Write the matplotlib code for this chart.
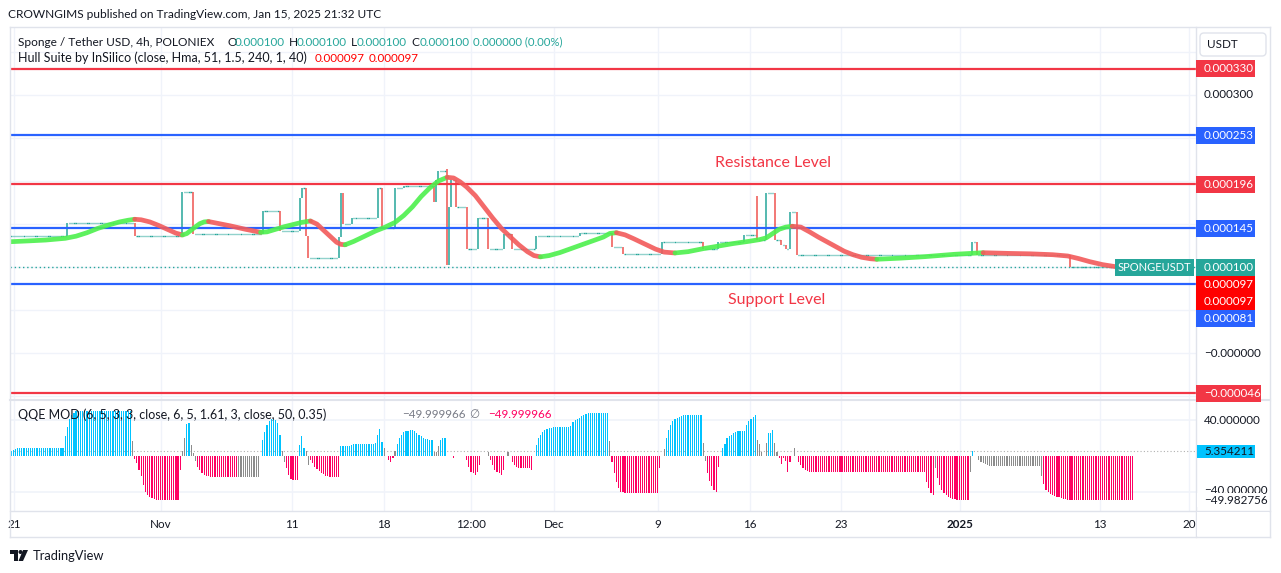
import numpy as np
import matplotlib
matplotlib.use("Agg")
import matplotlib.pyplot as plt
from matplotlib.patches import Rectangle, FancyBboxPatch, Polygon, Circle
from matplotlib.transforms import IdentityTransform

# ---------------------------------------------------------------- data
UNIT = 1e-6            # prices below are in micro-USDT
N_BARS = 518           # 4h bars shown

# (bar index, close) -- close is held until the next entry
price_steps = [
    (0, 136), (26, 151), (57, 136), (79, 187), (84, 138.5), (116, 165),
    (124, 142), (133, 180), (134, 192), (136, 136), (137, 111), (151, 135.5),
    (152, 186), (153, 150), (157, 157), (169, 191.6), (171, 145.8),
    (177, 191.6), (181, 194), (195, 176), (196, 201), (197, 211.6),
    (201, 102.6), (202, 169.5), (203, 201), (205, 169.5), (210, 120.8),
    (215, 157), (220, 120.8), (227, 139), (231, 120.8), (242, 135.8),
    (262, 139.7), (277, 123), (282, 115.3), (300, 129.2), (319, 120.8),
    (326, 129.2), (338, 137), (344, 131.5), (348, 185.7), (352, 132),
    (355, 126), (357, 120.8), (359, 163.7), (362, 114.5), (443, 129),
    (445, 113.8), (488, 100),
]
wick_highs = [(201, 213.6), (344, 182.6), (352, 186)]

# Hull Suite (bar index, value)
hull_points = [
    (0, 129.6), (8, 130.5), (16, 131.5), (25, 133.5), (30, 136), (35, 140),
    (40, 145), (45, 149), (50, 152.5), (54, 154.5), (57, 155.6),
    (60, 155), (64, 152.5), (68, 148.5), (72, 144), (76, 139.5), (79, 137.4),
    (81, 139), (84, 145), (87, 150.5), (89, 152.5), (91, 153),
    (95, 151), (101, 148), (108, 144), (115, 140.5),
    (118, 141), (122, 144), (126, 147), (130, 149.5), (134, 152), (138, 153.6),
    (141, 150), (144, 143), (147, 136), (150, 129), (152, 126.5), (154, 126),
    (158, 130), (163, 136), (168, 142), (172, 146), (177, 152), (181, 160),
    (185, 170), (189, 182), (193, 192), (197, 200), (201, 204.3),
    (204, 203.5), (207, 199), (210, 193), (214, 183), (218, 170), (222, 157),
    (226, 145), (230, 135.4), (234, 126), (238, 118), (241, 113.5), (244, 112),
    (248, 113.5), (253, 117), (258, 121.5), (263, 126), (268, 130.5),
    (273, 135), (276, 139.2), (279, 140),
    (283, 137.5), (287, 133), (292, 127), (297, 121), (301, 117.5), (306, 116.5),
    (312, 118), (319, 121.5), (326, 124.5), (333, 127.5), (340, 130),
    (345, 132), (348, 134), (351, 139), (354, 144), (357, 146.5), (360, 147.5),
    (364, 146.5), (368, 141), (372, 135), (376, 129.5), (380, 124), (384, 118.5),
    (388, 114.5), (392, 111.5), (396, 109.8), (399, 109.2),
    (410, 110.5), (421, 112.2), (435, 115), (448, 116.8),
    (460, 116), (470, 115.5), (480, 114.5), (487, 113), (492, 110),
    (497, 106.5), (503, 103), (509, 100.6), (517, 97),
]

red_levels = [330, 196, -46]
blue_levels = [253, 145, 81]

# QQE MOD histogram: (first bar, colour key, values)
qqe_segments = [
    (0, 'b', [6, 7, 8, 9, 9.5, 9.5, 9.5, 9.5, 9.5, 9.5, 9.5, 9.5, 9.5, 9.5, 9.5,
              9.5, 9.5, 9.5, 9.5, 9.5, 9.5, 9.5, 9.5, 9.5, 9.5]),
    (25, 'b', [22, 33, 42]),
    (28, 'b', [46, 48, 50, 50, 50, 50, 50, 50, 50, 50, 50, 50, 50, 50, 50, 50,
               50, 50, 50, 50, 50, 50, 50, 50, 50, 50, 50, 50]),
    (56, 'g', [17]),
    (57, 'p', [-3, -8, -16, -23, -33, -41, -44, -46, -47, -48, -49, -49.5,
               -49.5, -49.5, -49.5, -49.5, -49.5, -49.5, -49.5, -49.5, -49, -16]),
    (79, 'g', [6, 20]),
    (81, 'b', [36, 37]),
    (83, 'g', [12, 3, -6]),
    (86, 'p', [-12, -16, -19, -21, -22, -23, -23.5, -24, -24, -24, -24, -24,
               -24, -24, -24, -24, -24, -24, -24]),
    (105, 'g', [-24, -24, -24, -24, -24, -24, -24, -24, -24, -24]),
    (116, 'b', [18, 27, 35, 39, 41, 42, 40, 37, 24]),
    (125, 'g', [6, -7]),
    (127, 'p', [-14, -21, -26, -27, -27, -27]),
    (133, 'b', [12, 22, 9.4]),
    (136, 'g', [5.6, -10]),
    (138, 'p', [-5, -8, -12, -15, -17, -19, -20, -22, -23, -24, -24, -24, -24, -24]),
    (152, 'b', [11, 11, 11, 11, 11, 12, 14, 14, 14, 14, 14, 14, 14, 14, 14, 14,
                15, 24, 30, 16]),
    (172, 'g', [8.6]),
    (174, 'p', [-4.5, -7, -2.6]),
    (177, 'g', [5.6]),
    (178, 'b', [14, 20, 24, 27, 28, 28.5, 29, 29, 28, 26, 24, 22, 20, 19, 19, 18, 18]),
    (195, 'g', [5, 5, 11.6]),
    (198, 'b', [18, 20, 20.6]),
    (204, 'p', [-2.6]),
    (210, 'p', [-4.5, -12, -17.6, -19.5, -21, -17.6, -10]),
    (220, 'g', [5]),
    (221, 'p', [-4.5, -10, -16, -17.6, -19.5, -21, -15.7]),
    (229, 'g', [5]),
    (231, 'p', [-6.4, -10, -12, -14, -14, -14, -14, -14, -14, -15.7]),
    (242, 'b', [12, 20, 24, 27, 29, 30, 31, 32, 32.5, 32.5, 32.5, 32.5, 32.5,
                32.5, 32.5, 32.5, 34, 38, 40, 42, 43, 44.5, 46, 47, 48, 48, 48,
                48, 48, 48, 48, 48, 48, 48]),
    (276, 'g', [17]),
    (277, 'p', [-6.4, -19.5, -29, -35.6, -40, -41, -41.5, -42, -42, -42, -42,
                -42, -42, -42, -42, -42, -42, -42, -42, -42, -42, -42, -13]),
    (301, 'g', [8]),
    (302, 'b', [20, 29, 35, 39, 41, 42.5, 44, 45, 46, 46, 46, 46, 46, 46, 46, 46, 46]),
    (319, 'g', [15, -5.6]),
    (321, 'p', [-19.5, -28, -34, -38, -41, -12]),
    (328, 'b', [9.4, 14, 20, 22, 24, 26, 27, 28, 28.5, 28.5, 28.5, 35, 39, 42, 44, 46]),
    (344, 'g', [18, 13, 5]),
    (348, 'g', [15]),
    (349, 'b', [25.5, 25.5, 29]),
    (352, 'g', [15, 5]),
    (354, 'p', [-2.6, -9.4, -2, -6, -17.6, -6.4]),
    (361, 'g', [9.4]),
    (363, 'p', [-6.4, -10, -14, -16, -17, -17.6, -18.5, -18.5, -18.5, -18.5,
                -18.5, -18.5, -18.5, -18.5, -18.5, -18.5, -18.5, -18.5, -18.5,
                -18.5, -18.5, -18.5, -18.5, -18.5, -18.5, -18.5, -18.5, -18.5,
                -18.5, -18.5, -18.5, -18.5, -18.5, -18.5, -18.5, -18.5, -18.5,
                -18.5, -18.5, -18.5, -18.5, -18.5, -18.5, -18.5, -18.5, -18.5,
                -18.5, -18.5, -18.5, -18.5, -18.5, -18.5, -18.5, -18.5, -18.5,
                -18.5, -18.5, -18.5, -18.5]),
    (422, 'p', [-29, -36, -42, -44]),
    (426, 'g', [-13]),
    (427, 'p', [-25, -33, -38, -42, -44, -46, -47.5, -48, -48.5, -49, -49,
                -49.5, -49.5, -49.5, -49.5]),
    (442, 'g', [-17.6]),
    (443, 'b', [5.6]),
    (446, 'g', [-4.5, -6.4, -8.2, -9.4, -10, -10.8, -11, -11, -11, -11, -11,
                -11, -11, -11, -11, -11, -11, -11, -11, -11, -11, -11, -11, -11,
                -11, -11, -11, -11, -11, -23]),
    (476, 'p', [-31.5, -38, -41, -43, -44, -45.5, -46, -46.5, -47, -48, -48.5,
                -49, -49.5, -50, -50, -50, -50, -50, -50, -50, -50, -50, -50, -50,
                -50, -50, -50, -50, -50, -50, -50, -50, -50, -50, -50, -50, -50,
                -50, -50, -50, -50, -50]),
]
qqe_last = 5.354211
qqe_low_label = -49.982756
qqe_legend_value = -49.999966

tick_pos = [1.4, 69.1, 129.5, 171.9, 212.0, 250.2, 298.2, 340.6, 382.5, 437.3, 501.8, 542.9]
tick_labels = ['21', 'Nov', '11', '18', '12:00', 'Dec', '9', '16', '23', '2025', '13', '20']
price_grid = [350, 300, 250, 200, 150, 100, 50, 0, -50]
qqe_grid = [40, -40]

# ---------------------------------------------------------------- style
W, H = 1281, 573
FONT = 'Lato'
C_TXT = '#131722'
C_UP, C_DN = '#26a69a', '#ef5350'
C_RED, C_BLUE = '#f23645', '#2962ff'
C_GRID, C_SEP = '#f0f3fa', '#e0e3eb'
QQE_COL = {'b': '#00c3ff', 'p': '#ff0062', 'g': '#8c8c8c'}

plt.rcParams['font.family'] = [FONT, 'DejaVu Sans']
fig = plt.figure(figsize=(W / 100, H / 100), dpi=100)
fig.patch.set_facecolor('white')

L, R, T, MB, QB = 10, 1196, 27, 400, 511
ax = fig.add_axes([L / W, 1 - MB / H, (R - L) / W, (MB - T) / H])
axq = fig.add_axes([L / W, 1 - QB / H, (R - L) / W, (QB - MB) / H], sharex=ax)
XL = (-0.46, 546.1)
ax.set_xlim(*XL)
ax.set_ylim(-54.1 * UNIT, 378.7 * UNIT)
axq.set_ylim(-61.8, 62.9)
for a in (ax, axq):
    a.set_facecolor('white')
    for s in a.spines.values():
        s.set_visible(False)
    a.tick_params(length=0, labelleft=False, labelright=False)
    a.set_yticks([])
ax.tick_params(labelbottom=False)

ID = IdentityTransform()


def ptext(x, y, s, **kw):
    kw.setdefault('va', 'center')
    kw.setdefault('color', C_TXT)
    kw.setdefault('fontsize', 8.4)
    return fig.text(x, H - y, s, transform=ID, **kw)


def prect(x0, y0, x1, y1, **kw):
    r = Rectangle((x0, H - y1), x1 - x0, y1 - y0, transform=ID, **kw)
    fig.add_artist(r)
    return r


def pline(x0, y0, x1, y1, **kw):
    fig.add_artist(plt.Line2D([x0, x1], [H - y0, H - y1], transform=ID, **kw))


def ypix(a, v):
    return H - a.transData.transform((0, v))[1]


def fmt(v):
    s = f"{abs(v) * UNIT:.6f}"
    return ('\u2212' + s) if v < 0 else s


# grid
for t in tick_pos:
    ax.axvline(t, color=C_GRID, lw=1, zorder=0)
    axq.axvline(t, color=C_GRID, lw=1, zorder=0)
for g in price_grid:
    ax.axhline(g * UNIT, color=C_GRID, lw=1, zorder=0)
for g in qqe_grid:
    axq.axhline(g, color=C_GRID, lw=1.2, zorder=0)

# ---------------------------------------------------------------- candles
close = np.empty(N_BARS)
bounds = [b for b, _ in price_steps] + [N_BARS]
for (b, v), e in zip(price_steps, bounds[1:]):
    close[b:e] = v
opn = np.r_[close[0], close[:-1]]
idx = np.arange(N_BARS)
flat = opn == close
ax.hlines(close[flat] * UNIT, idx[flat] - 0.3, idx[flat] + 0.3, color=C_UP, lw=1.0, zorder=2)
up = close > opn
dn = close < opn
ax.vlines(idx[up], opn[up] * UNIT, close[up] * UNIT, color=C_UP, lw=1.1, zorder=2)
ax.vlines(idx[dn], opn[dn] * UNIT, close[dn] * UNIT, color=C_DN, lw=1.1, zorder=2)
for b, hi in wick_highs:
    col = C_UP if close[b] >= opn[b] else C_DN
    ax.vlines(b, max(opn[b], close[b]) * UNIT, hi * UNIT, color=col, lw=1.1, zorder=2)
ax.axhline(close[-1] * UNIT, color=C_UP, lw=1, ls=(0, (1, 2)), zorder=1)

# levels
for v in red_levels:
    ax.axhline(v * UNIT, color=C_RED, lw=1.6, zorder=4)
for v in blue_levels:
    ax.axhline(v * UNIT, color=C_BLUE, lw=1.6, zorder=4)

# hull
hb = np.array([p[0] for p in hull_points], float)
hv = np.array([p[1] for p in hull_points], float)
slope = np.sign(np.diff(hv))
start = 0
for k in range(1, len(slope) + 1):
    if k == len(slope) or slope[k] != slope[start]:
        col = '#4cf04c' if slope[start] > 0 else '#f25a5a'
        ax.plot(hb[start:k + 1], hv[start:k + 1] * UNIT, color=col, lw=3.4,
                solid_capstyle='round', solid_joinstyle='round', alpha=0.9, zorder=5)
        start = k

ptext(773, 163, 'Resistance Level', color=C_RED, fontsize=11.5, ha='center')
ptext(777, 300, 'Support Level', color=C_RED, fontsize=11.5, ha='center')

# ---------------------------------------------------------------- QQE
for s, c, vals in qqe_segments:
    xs = s + np.arange(len(vals))
    axq.bar(xs, vals, width=0.55, color=QQE_COL[c], linewidth=0, zorder=2)
axq.axhline(qqe_last, color='#b0b0b0', lw=0.8, ls=(0, (1, 2)), zorder=1)

axq.set_xticks(tick_pos)
axq.set_xticklabels(tick_labels, fontsize=8.4, color=C_TXT)
axq.tick_params(axis='x', pad=6)
for lab in axq.get_xticklabels():
    if lab.get_text() == '2025':
        lab.set_fontweight('bold')

# ---------------------------------------------------------------- frame
pline(L, T, 1270, T, color=C_SEP, lw=1)
pline(L, T, L, 537, color=C_SEP, lw=1)
pline(1270, T, 1270, 537, color=C_SEP, lw=1)
pline(L, 537, 1270, 537, color=C_SEP, lw=1)
pline(R, T, R, 537, color=C_SEP, lw=1)
pline(L, MB, 1270, MB, color=C_SEP, lw=1.5)
pline(L, QB, 1270, QB, color=C_SEP, lw=1)

# header and legends
ptext(8, 14, 'CROWNGIMS published on TradingView.com, Jan 15, 2025 21:32 UTC', fontsize=8.6)
ptext(18, 42, 'Sponge / Tether USD, 4h, POLONIEX', fontsize=8.6)
for xl, letter, xv in [(227, 'O', 235), (289, 'H', 297), (351, 'L', 357), (411, 'C', 420)]:
    ptext(xl, 42, letter, fontsize=8.6)
    ptext(xv, 42, fmt(close[-1]), fontsize=8.4, color=C_UP)
ptext(473, 42, '0.000000 (0.00%)', fontsize=8.2, color=C_UP)
ptext(18, 58, 'Hull Suite by InSilico (close, Hma, 51, 1.5, 240, 1, 40)', fontsize=9.0)
ptext(315, 58, fmt(hv[-1]), fontsize=8.4, color='#ff0000')
ptext(369, 58, fmt(hv[-1]), fontsize=8.4, color='#ff0000')
ptext(18, 415, 'QQE MOD (6, 5, 3, 3, close, 6, 5, 1.61, 3, close, 50, 0.35)', fontsize=9.0)
ptext(402, 415, f"\u2212{abs(qqe_legend_value):.6f}", fontsize=8.4, color='#787b86')
ptext(469, 415, '\u2205', fontsize=8.4, color='#787b86')
ptext(488, 415, f"\u2212{abs(qqe_legend_value):.6f}", fontsize=8.4, color='#ff0062')

# price scale
fig.add_artist(FancyBboxPatch((1200, H - 56), 66, 23, boxstyle='round,pad=0,rounding_size=4',
                              transform=ID, fc='white', ec=C_SEP, lw=1))
ptext(1222, 44, 'USDT', fontsize=8.4, ha='center')
ptext(1204, ypix(ax, 300 * UNIT), '0.000300', fontsize=8.4)
ptext(1204, ypix(ax, 0), '\u22120.000000', fontsize=8.4)

labels = [(v, C_RED) for v in red_levels] + [(v, C_BLUE) for v in blue_levels]
labels += [(close[-1], C_UP), (hv[-1] - 0.001, '#ff0000'), (hv[-1] - 0.002, '#ff0000')]
labels.sort(key=lambda t: -t[0])
prev = -100
for v, col in labels:
    yc = max(ypix(ax, v * UNIT), prev + 17)
    prev = yc
    txt = fmt(round(v, 1))
    w = 65 if txt.startswith('\u2212') else 59
    prect(1196, yc - 8.5, 1196 + w, yc + 8.5, fc=col, ec='none', zorder=6)
    ptext(1204, yc, txt, fontsize=8.4, color='white', zorder=7)

# SPONGEUSDT label
yl = ypix(ax, close[-1] * UNIT)
prect(1115, yl - 8.5, 1194, yl + 8.5, fc=C_UP, ec='none', zorder=6)
ptext(1154.5, yl, 'SPONGEUSDT', fontsize=8.0, color='white', ha='center', zorder=7)

# QQE scale
ptext(1204, ypix(axq, 40), '40.000000', fontsize=8.4)
ptext(1204, ypix(axq, -40) - 1, '\u221240.000000', fontsize=8.4)
yq = ypix(axq, qqe_last)
prect(1197, yq - 6.5, 1255, yq + 6.5, fc='#00c3ff', ec='none', zorder=6)
ptext(1204, yq, f"{qqe_last:.6f}", fontsize=8.4, zorder=7)
yl2 = ypix(axq, qqe_low_label)
prect(1197, yl2 - 7, 1263, yl2 + 7, fc='white', ec='none', zorder=6)
ptext(1204, yl2, f"\u2212{abs(qqe_low_label):.6f}", fontsize=8.4, zorder=7)

# clip the last date label at the price scale
prect(1197, QB + 1, 1269, 536, fc='white', ec='none', zorder=6)

# TradingView logo
fig.add_artist(Polygon([[10, H - 550], [18, H - 550], [18, H - 561], [14, H - 561], [14, H - 554], [10, H - 554]],
                       closed=True, transform=ID, fc=C_TXT, ec='none'))
fig.add_artist(Circle((20.5, H - 552), 2.0, transform=ID, fc=C_TXT, ec='none'))
fig.add_artist(Polygon([[23, H - 550], [28, H - 550], [23, H - 561], [18.5, H - 561]],
                       closed=True, transform=ID, fc=C_TXT, ec='none'))
ptext(33, 556, 'TradingView', fontsize=9.3)

fig.savefig('out.png', dpi=100, facecolor='white')
